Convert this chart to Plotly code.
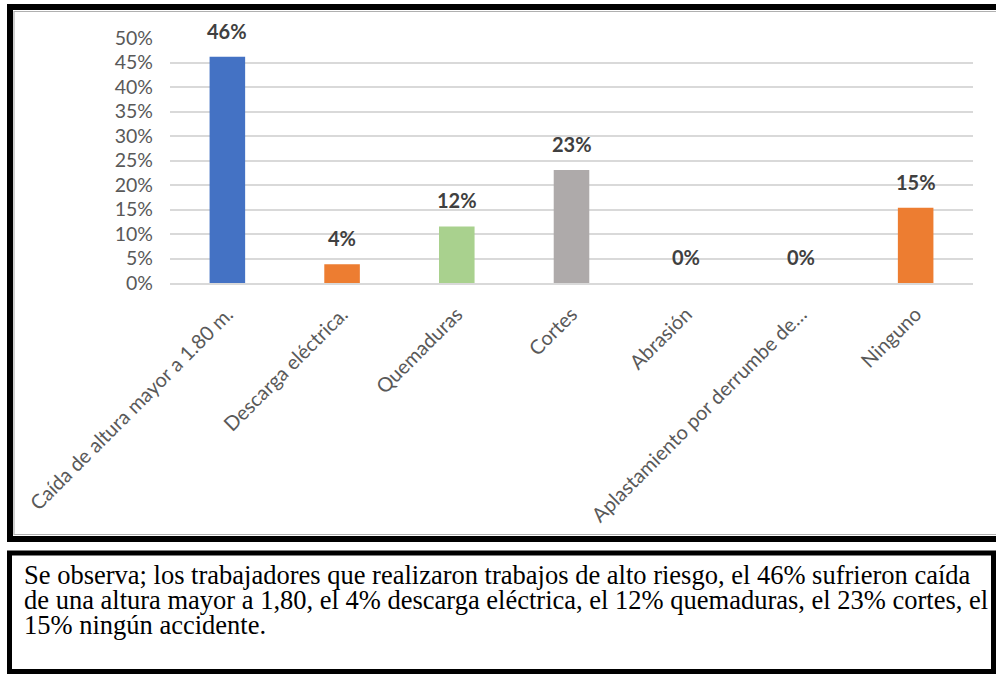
import plotly.graph_objects as go

categories = ["Caída de altura mayor a 1.80 m.", "Descarga eléctrica.", "Quemaduras",
              "Cortes", "Abrasión", "Aplastamiento por derrumbe de…", "Ninguno"]
values = [0.4615, 0.0385, 0.1154, 0.2308, 0.0, 0.0, 0.1538]
colors = ["#4472C4", "#ED7D31", "#A9D18E", "#AEAAAA", "#FFC000", "#5B9BD5", "#ED7D31"]
y_ticks = [0, 0.05, 0.10, 0.15, 0.20, 0.25, 0.30, 0.35, 0.40, 0.45, 0.50]
note_lines = [
    "Se observa; los trabajadores que realizaron trabajos de alto riesgo, el 46% sufrieron caída",
    "de una altura mayor a 1,80, el 4% descarga eléctrica, el 12% quemaduras, el 23% cortes, el",
    "15% ningún accidente.",
]

W, H = 996, 674
L, R, T, B = 170, 23, 38, 391
PW, PH = W - L - R, H - T - B


def px(x):
    return (x - L) / PW


def py(y):
    return (H - B - y) / PH


fig = go.Figure()
fig.add_trace(go.Bar(
    x=categories, y=values, marker=dict(color=colors, line=dict(width=0)),
    width=0.31, hoverinfo="skip", cliponaxis=False,
))

annotations = []
for c, v in zip(categories, values):
    annotations.append(dict(
        x=c, y=v, xref="x", yref="y", text=f"{round(v * 100)}%", showarrow=False,
        yanchor="middle", yshift=26,
        font=dict(family="Lato", size=20, color="#404040", weight="bold"),
    ))

line_y = [575, 600, 624.5]
for t, yy in zip(note_lines, line_y):
    annotations.append(dict(
        x=px(23), y=py(yy), xref="paper", yref="paper", text=t, showarrow=False,
        xanchor="left", yanchor="middle", borderpad=0,
        font=dict(family="Liberation Serif", size=26.5, color="#000000"),
    ))

shapes = [
    # chart frame
    dict(type="rect", xref="paper", yref="paper", x0=px(10), x1=px(1010), y0=py(7), y1=py(539),
         line=dict(color="#000000", width=6)),
    dict(type="rect", xref="paper", yref="paper", x0=px(14), x1=px(1010), y0=py(11.5), y1=py(534.5),
         line=dict(color="#B0B0B0", width=1.2)),
    # note frame
    dict(type="rect", xref="paper", yref="paper", x0=px(9.5), x1=px(993.5), y0=py(553), y1=py(671.5),
         line=dict(color="#000000", width=5)),
]

fig.update_layout(
    width=W, height=H, margin=dict(l=L, r=R, t=T, b=B, autoexpand=False),
    paper_bgcolor="white", plot_bgcolor="white", showlegend=False,
    bargap=0.69, annotations=annotations, shapes=shapes,
    font=dict(family="Lato", color="#595959"),
)
fig.update_xaxes(
    tickangle=-45, tickfont=dict(family="Lato", size=20, color="#595959"),
    showline=True, linecolor="#D9D9D9", linewidth=1.5, showgrid=False, ticks="",
    ticklabelstandoff=10, automargin=False,
)
fig.update_yaxes(
    range=[0, 0.5], tickvals=y_ticks, tickformat=".0%",
    tickfont=dict(family="Lato", size=19.5, color="#595959"),
    showgrid=True, gridcolor="#D9D9D9", gridwidth=1.5, zeroline=False, showline=False,
    ticks="", ticklabelstandoff=16, automargin=False,
)

fig.write_html(
    "out.html",
    config={"displayModeBar": False},
    post_script="document.body.style.margin='0';document.body.style.overflow='hidden';",
)
